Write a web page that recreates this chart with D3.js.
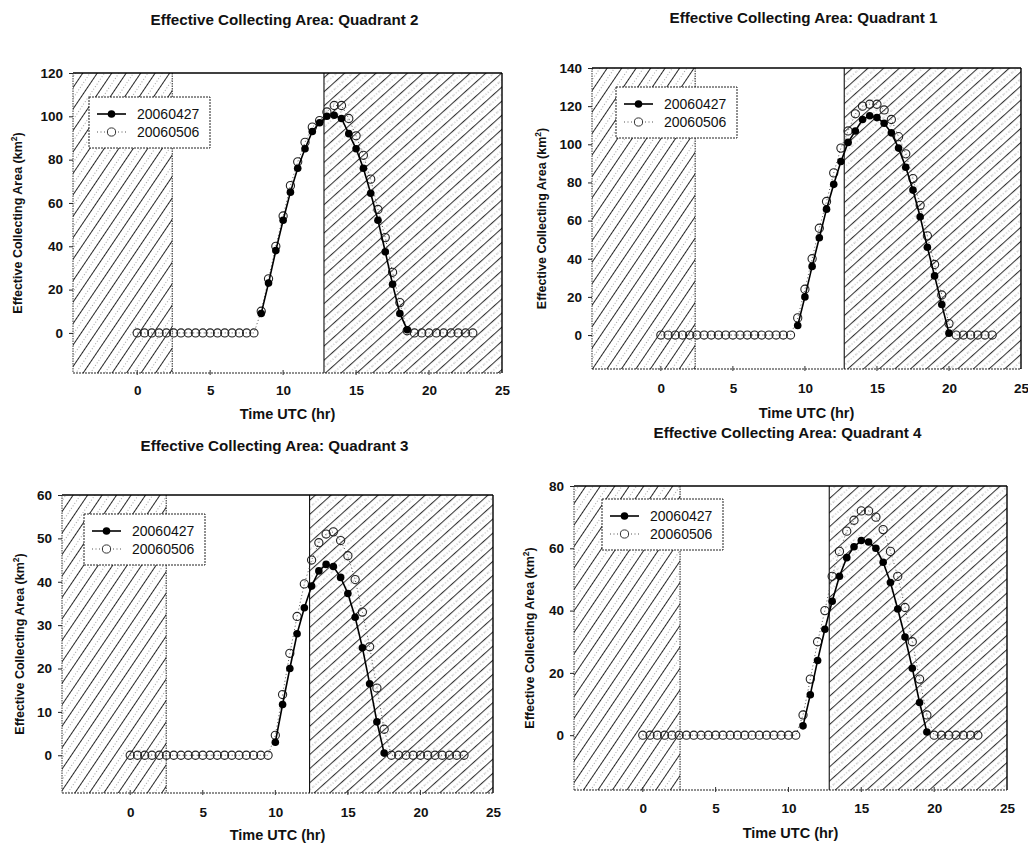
<!DOCTYPE html>
<html>
<head>
<meta charset="utf-8">
<script src="https://cdn.jsdelivr.net/npm/d3@7"></script>
<style>
  body { margin: 0; background: #fff; }
  svg text { font-family: "Liberation Sans", Arial, sans-serif; fill: #111; }
</style>
</head>
<body>
<svg id="chart" width="1028" height="845"></svg>
<script>
// Half-hourly sample times (UTC hours)
const hoursUTC = [0, 0.5, 1, 1.5, 2, 2.5, 3, 3.5, 4, 4.5, 5, 5.5, 6, 6.5, 7, 7.5, 8, 8.5, 9, 9.5,
  10, 10.5, 11, 11.5, 12, 12.5, 13, 13.5, 14, 14.5, 15, 15.5, 16, 16.5, 17, 17.5, 18, 18.5, 19, 19.5,
  20, 20.5, 21, 21.5, 22, 22.5, 23];

const seriesNames = ["20060427", "20060506"];
const xTicks = [0, 5, 10, 15, 20, 25];
const _ = null;

// Quadrant 2 effective collecting area (km^2)
const q2Apr27 = [_, _, _, _, _, _, _, _, _, _, _, _, _, _, _, _, _,
  9, 23, 38, 52, 65, 76, 85, 93, 97, 100, 100.5, 99, 92, 85, 76, 64.5, 52, 37.5, 22.5, 9, 1.5,
  _, _, _, _, _, _, _, _, _];
const q2May06 = [0, 0, 0, 0, 0, 0, 0, 0, 0, 0, 0, 0, 0, 0, 0, 0, 0,
  10, 25, 40, 54, 68, 79, 88, 95, 98, 102, 105, 105, 99, 91, 82, 71, 57, 44, 28, 14, 1,
  0, 0, 0, 0, 0, 0, 0, 0, 0];
const q2YTicks = [0, 20, 40, 60, 80, 100, 120];

// Quadrant 1
const q1Apr27 = [_, _, _, _, _, _, _, _, _, _, _, _, _, _, _, _, _, _, _,
  5, 20, 36, 51, 66, 79, 91, 101, 107, 113, 115, 114, 111, 106, 98, 88, 76, 62, 46, 31, 16, 1,
  _, _, _, _, _, _];
const q1May06 = [0, 0, 0, 0, 0, 0, 0, 0, 0, 0, 0, 0, 0, 0, 0, 0, 0, 0, 0,
  9, 24, 40, 56, 70, 85, 98, 107, 116, 120, 121, 121, 118, 113, 104, 95, 82, 68, 52, 37, 21, 6,
  0, 0, 0, 0, 0, 0];
const q1YTicks = [0, 20, 40, 60, 80, 100, 120, 140];

// Quadrant 3
const q3Apr27 = [_, _, _, _, _, _, _, _, _, _, _, _, _, _, _, _, _, _, _, _,
  3, 11.7, 20, 28, 34, 39, 42.5, 44, 43.5, 41, 37.3, 31.8, 24.8, 16.5, 7.7, 0.5,
  _, _, _, _, _, _, _, _, _, _, _];
const q3May06 = [0, 0, 0, 0, 0, 0, 0, 0, 0, 0, 0, 0, 0, 0, 0, 0, 0, 0, 0, 0,
  4.6, 14, 23.5, 32, 39.5, 45, 49, 51, 51.5, 49.5, 46, 40.5, 33, 25, 15.5, 6,
  0, 0, 0, 0, 0, 0, 0, 0, 0, 0, 0];
const q3YTicks = [0, 10, 20, 30, 40, 50, 60];

// Quadrant 4
const q4Apr27 = [_, _, _, _, _, _, _, _, _, _, _, _, _, _, _, _, _, _, _, _, _, _,
  3, 13, 24, 34, 43, 51, 57, 60.5, 62.5, 62, 60, 55.5, 49, 40.5, 31.5, 21.5, 10.5, 1,
  _, _, _, _, _, _, _];
const q4May06 = [0, 0, 0, 0, 0, 0, 0, 0, 0, 0, 0, 0, 0, 0, 0, 0, 0, 0, 0, 0, 0, 0,
  6.5, 18, 30, 40, 51, 59, 65.5, 69, 72, 72, 70, 66, 59, 51, 41, 30, 18, 6.5,
  0, 0, 0, 0, 0, 0, 0];
const q4YTicks = [0, 20, 40, 60, 80];

// Night-time (shaded) limits, hours UTC: end of first night, start of second
const q2Night = [2.4, 12.8];
const q1Night = [2.38, 12.73];
const q3Night = [2.48, 12.36];
const q4Night = [2.56, 12.8];

// Axis ranges
const q2XDomain = [-4.4, 25],  q2YDomain = [-18.5, 120];
const q1XDomain = [-4.78, 25], q1YDomain = [-17.8, 140];
const q3XDomain = [-4.7, 25],  q3YDomain = [-8.7, 60];
const q4XDomain = [-4.72, 25], q4YDomain = [-17.6, 80];

// Panel geometry on the page
const panels = [
  { title: "Effective Collecting Area: Quadrant 2", s1: q2Apr27, s2: q2May06, yTicks: q2YTicks,
    night: q2Night, xDom: q2XDomain, yDom: q2YDomain,
    box: { l: 73, t: 73, r: 502, b: 373 }, titleY: 25, tickY: 395, xLabelY: 419, yLabelX: 18,
    legend: { x: 89, y: 97 } },
  { title: "Effective Collecting Area: Quadrant 1", s1: q1Apr27, s2: q1May06, yTicks: q1YTicks,
    night: q1Night, xDom: q1XDomain, yDom: q1YDomain,
    box: { l: 592, t: 68, r: 1021, b: 369 }, titleY: 23, tickY: 393, xLabelY: 418, yLabelX: 542,
    legend: { x: 616, y: 87 } },
  { title: "Effective Collecting Area: Quadrant 3", s1: q3Apr27, s2: q3May06, yTicks: q3YTicks,
    night: q3Night, xDom: q3XDomain, yDom: q3YDomain,
    box: { l: 62, t: 495, r: 493, b: 793 }, titleY: 451, tickY: 817, xLabelY: 840, yLabelX: 20,
    legend: { x: 84, y: 514 } },
  { title: "Effective Collecting Area: Quadrant 4", s1: q4Apr27, s2: q4May06, yTicks: q4YTicks,
    night: q4Night, xDom: q4XDomain, yDom: q4YDomain,
    box: { l: 574, t: 486, r: 1007, b: 790 }, titleY: 438, tickY: 813, xLabelY: 838, yLabelX: 530,
    legend: { x: 602, y: 499 } }
];

const svg = d3.select("#chart");
const defs = svg.append("defs");

// Diagonal hatching: solid strokes with a fainter dotted stroke between them
function makeHatch(id, angle, size) {
  const p = defs.append("pattern")
    .attr("id", id)
    .attr("patternUnits", "userSpaceOnUse")
    .attr("width", size).attr("height", size)
    .attr("patternTransform", `rotate(${angle})`);
  p.append("rect").attr("width", size).attr("height", size).attr("fill", "#fff");
  p.append("line").attr("x1", 1.5).attr("x2", 1.5).attr("y1", 0).attr("y2", size)
    .attr("stroke", "#262626").attr("stroke-width", 1.0);
  p.append("line").attr("x1", 1.5 + size / 2).attr("x2", 1.5 + size / 2).attr("y1", 0).attr("y2", size)
    .attr("stroke", "#8a8a8a").attr("stroke-width", 0.8).attr("stroke-dasharray", "1,2");
}
makeHatch("hatchMorning", 34, 12);
makeHatch("hatchEvening", 48, 10.5);

panels.forEach((P, i) => {
  const g = svg.append("g");
  const B = P.box;
  const x = d3.scaleLinear().domain(P.xDom).range([B.l, B.r]);
  const y = d3.scaleLinear().domain(P.yDom).range([B.b, B.t]);

  const clipId = "clip" + i;
  defs.append("clipPath").attr("id", clipId)
    .append("rect").attr("x", B.l).attr("y", B.t).attr("width", B.r - B.l).attr("height", B.b - B.t);

  // Night shading
  g.append("rect")
    .attr("x", x(P.xDom[0])).attr("y", B.t)
    .attr("width", x(P.night[0]) - x(P.xDom[0])).attr("height", B.b - B.t)
    .attr("fill", "url(#hatchMorning)");
  g.append("rect")
    .attr("x", x(P.night[1])).attr("y", B.t)
    .attr("width", x(P.xDom[1]) - x(P.night[1])).attr("height", B.b - B.t)
    .attr("fill", "url(#hatchEvening)");
  g.append("line")
    .attr("x1", x(P.night[0])).attr("x2", x(P.night[0])).attr("y1", B.t).attr("y2", B.b)
    .attr("stroke", "#222").attr("stroke-width", 1).attr("stroke-dasharray", "1.5,1");
  g.append("line")
    .attr("x1", x(P.night[1])).attr("x2", x(P.night[1])).attr("y1", B.t).attr("y2", B.b)
    .attr("stroke", "#111").attr("stroke-width", 1.1);

  // Frame
  g.append("line").attr("x1", B.l).attr("x2", B.r).attr("y1", B.t).attr("y2", B.t)
    .attr("stroke", "#000").attr("stroke-width", 1.6);
  g.append("line").attr("x1", B.r).attr("x2", B.r).attr("y1", B.t).attr("y2", B.b)
    .attr("stroke", "#000").attr("stroke-width", 1.4);
  g.append("line").attr("x1", B.l).attr("x2", B.l).attr("y1", B.t).attr("y2", B.b)
    .attr("stroke", "#333").attr("stroke-width", 1).attr("stroke-dasharray", "1.5,1");
  g.append("line").attr("x1", B.l).attr("x2", B.r).attr("y1", B.b).attr("y2", B.b)
    .attr("stroke", "#222").attr("stroke-width", 1.2).attr("stroke-dasharray", "2,1");

  // Axes
  const yAxis = d3.axisLeft(y).tickValues(P.yTicks).tickSize(4).tickPadding(6).tickFormat(d3.format("d"));
  const yg = g.append("g").attr("transform", `translate(${B.l},0)`).call(yAxis);
  const xAxis = d3.axisBottom(x).tickValues(xTicks).tickSize(0).tickPadding(0).tickFormat(d3.format("d"));
  const xg = g.append("g").attr("transform", `translate(0,${P.tickY})`).call(xAxis);
  [yg, xg].forEach(a => {
    a.select(".domain").remove();
    a.selectAll(".tick line").attr("stroke", "#222");
    a.selectAll("text").attr("font-size", 13.5).attr("font-weight", "bold").attr("fill", "#111")
      .style("font-family", '"Liberation Sans", Arial, sans-serif');
  });
  xg.selectAll("text").attr("dy", 0);
  // small tick marks at the bottom edge
  g.selectAll(".xt").data(xTicks.filter(t => t < P.xDom[1])).enter().append("line")
    .attr("x1", d => x(d)).attr("x2", d => x(d)).attr("y1", B.b - 3).attr("y2", B.b + 2)
    .attr("stroke", "#333").attr("stroke-width", 1);

  // Titles and labels
  g.append("text").attr("x", (B.l + B.r) / 2 - 3).attr("y", P.titleY)
    .attr("text-anchor", "middle").attr("font-size", 15.2).attr("font-weight", "bold")
    .text(P.title);
  g.append("text").attr("x", (B.l + B.r) / 2).attr("y", P.xLabelY)
    .attr("text-anchor", "middle").attr("font-size", 14.5).attr("font-weight", "bold")
    .text("Time UTC (hr)");
  const yl = g.append("text")
    .attr("transform", `translate(${P.yLabelX + 4},${(B.t + B.b) / 2}) rotate(-90)`)
    .attr("text-anchor", "middle").attr("font-size", 12.5).attr("font-weight", "bold");
  yl.append("tspan").text("Effective Collecting Area (km");
  yl.append("tspan").attr("font-size", 8.5).attr("dy", -5).text("2");
  yl.append("tspan").attr("dy", 5).text(")");

  // Data
  const pts1 = hoursUTC.map((h, k) => ({ h, v: P.s1[k] })).filter(d => d.v !== null);
  const pts2 = hoursUTC.map((h, k) => ({ h, v: P.s2[k] })).filter(d => d.v !== null);
  const line = d3.line().x(d => x(d.h)).y(d => y(d.v));
  const plot = g.append("g").attr("clip-path", `url(#${clipId})`);

  plot.append("path").datum(pts2).attr("d", line).attr("fill", "none")
    .attr("stroke", "#555").attr("stroke-width", 1).attr("stroke-dasharray", "1,2.5");
  plot.selectAll(".o").data(pts2).enter().append("circle")
    .attr("cx", d => x(d.h)).attr("cy", d => y(d.v)).attr("r", 4.1)
    .attr("fill", "none").attr("stroke", "#222").attr("stroke-width", 1.1);

  plot.append("path").datum(pts1).attr("d", line).attr("fill", "none")
    .attr("stroke", "#000").attr("stroke-width", 1.6);
  plot.selectAll(".f").data(pts1).enter().append("circle")
    .attr("cx", d => x(d.h)).attr("cy", d => y(d.v)).attr("r", 3.8)
    .attr("fill", "#000");

  // Legend
  const L = P.legend;
  const lg = g.append("g").attr("transform", `translate(${L.x},${L.y})`);
  lg.append("rect").attr("width", 121).attr("height", 51).attr("fill", "#fff")
    .attr("stroke", "#222").attr("stroke-width", 1).attr("stroke-dasharray", "2,1");
  lg.append("line").attr("x1", 8).attr("x2", 37).attr("y1", 17).attr("y2", 17)
    .attr("stroke", "#000").attr("stroke-width", 1.6);
  lg.append("circle").attr("cx", 22.5).attr("cy", 17).attr("r", 3.8).attr("fill", "#000");
  lg.append("line").attr("x1", 8).attr("x2", 37).attr("y1", 35).attr("y2", 35)
    .attr("stroke", "#555").attr("stroke-width", 1).attr("stroke-dasharray", "1,2.5");
  lg.append("circle").attr("cx", 22.5).attr("cy", 35).attr("r", 4.1)
    .attr("fill", "#fff").attr("stroke", "#333").attr("stroke-width", 1);
  seriesNames.forEach((name, k) => {
    lg.append("text").attr("x", 48).attr("y", 22 + k * 18).attr("font-size", 14)
      .text(name);
  });
});
</script>
</body>
</html>
